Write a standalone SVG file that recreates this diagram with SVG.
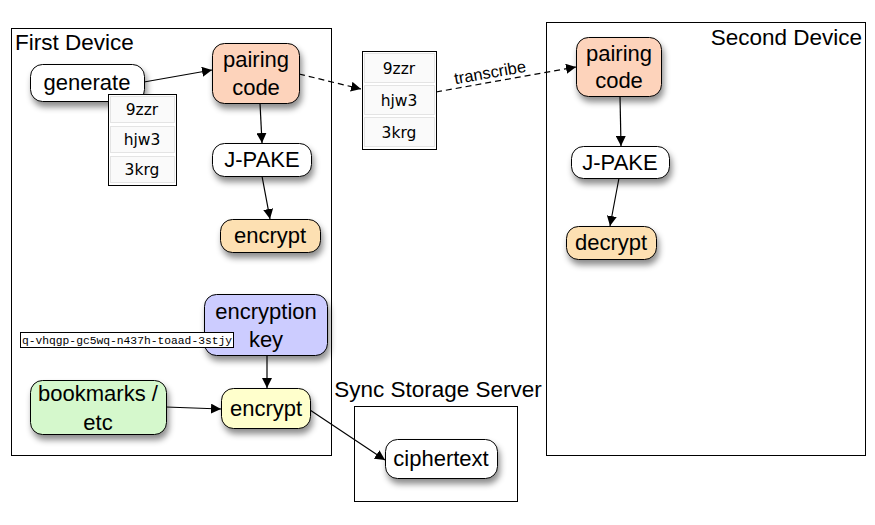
<svg xmlns="http://www.w3.org/2000/svg" width="875" height="525" viewBox="0 0 875 525">
  <defs>
    <filter id="shadow" x="-20%" y="-20%" width="150%" height="170%">
      <feDropShadow dx="2" dy="5" stdDeviation="3" flood-color="#000" flood-opacity="0.45"/>
    </filter>
    <marker id="arrow" viewBox="0 0 10 10" refX="10" refY="5" markerWidth="10" markerHeight="10" markerUnits="userSpaceOnUse" orient="auto">
      <path d="M0,0 L10,5 L0,10 z" fill="#000"/>
    </marker>
  </defs>
  <style>
    .frame { fill: #fff; stroke: #000; stroke-width: 1; }
    .node { stroke: #000; stroke-width: 1; filter: url(#shadow); }
    .lbl { font-family: "Liberation Sans", Arial, sans-serif; font-size: 22px; fill: #000; text-anchor: middle; }
    .title { font-family: "Liberation Sans", Arial, sans-serif; font-size: 22.5px; fill: #000; }
    .code { font-family: "DejaVu Sans", sans-serif; font-size: 15.5px; fill: #000; text-anchor: middle; }
    .row { fill: #fafafa; stroke: #e4e4e4; stroke-width: 1; }
    .edge { fill: none; stroke: #000; stroke-width: 1.2; marker-end: url(#arrow); }
    .dashed { stroke-dasharray: 6 4; }
  </style>
  <rect width="875" height="525" fill="#fff"/>

  <!-- containers -->
  <g id="first-device">
    <rect class="frame" x="11.5" y="28.5" width="320" height="427"/>
    <text class="title" x="15" y="50">First Device</text>
  </g>
  <g id="second-device">
    <rect class="frame" x="546.5" y="22.5" width="319" height="433"/>
    <text class="title" x="862" y="45" text-anchor="end">Second Device</text>
  </g>
  <g id="sync-server">
    <rect class="frame" x="354.5" y="406.5" width="163" height="95"/>
    <text class="title" x="438" y="397" text-anchor="middle">Sync Storage Server</text>
  </g>

  <!-- connectors -->
  <g id="connectors">
    <line class="edge" x1="144" y1="82" x2="212" y2="70"/>
    <line class="edge dashed" x1="299" y1="74" x2="361" y2="89"/>
    <line class="edge dashed" x1="436" y1="92" x2="576" y2="67"/>
    <text font-family="Liberation Sans, Arial, sans-serif" font-size="16.5px" text-anchor="middle" transform="translate(491,78) rotate(-10)">transcribe</text>
    <line class="edge" x1="260" y1="103" x2="262" y2="143"/>
    <line class="edge" x1="262" y1="176" x2="270" y2="219"/>
    <line class="edge" x1="267" y1="355" x2="267" y2="388"/>
    <line class="edge" x1="166" y1="407" x2="221" y2="409"/>
    <line class="edge" x1="310" y1="410" x2="385" y2="460"/>
    <line class="edge" x1="620" y1="96" x2="621" y2="146"/>
    <line class="edge" x1="619" y1="178" x2="610" y2="226"/>
  </g>

  <!-- first device nodes -->
  <g id="generate">
    <rect class="node" x="30.5" y="64.5" width="114" height="37" rx="12" fill="#fff"/>
    <text class="lbl" x="87" y="90">generate</text>
  </g>
  <g id="pairing-code-1">
    <rect class="node" x="212.5" y="43.5" width="87" height="60" rx="12" fill="#fdd3bb"/>
    <text class="lbl" x="256" y="67">pairing</text>
    <text class="lbl" x="256" y="95">code</text>
  </g>
  <g id="code-list-1">
    <rect x="108.5" y="94.5" width="68" height="91" fill="#fff" stroke="#000"/>
    <rect class="row" x="110.5" y="96.5" width="64" height="26"/>
    <rect class="row" x="110.5" y="126.5" width="64" height="26"/>
    <rect class="row" x="110.5" y="156.5" width="64" height="26"/>
    <text class="code" x="142" y="115">9zzr</text>
    <text class="code" x="142" y="145">hjw3</text>
    <text class="code" x="142" y="175">3krg</text>
  </g>
  <g id="jpake-1">
    <rect class="node" x="212.5" y="143.5" width="99" height="33" rx="12" fill="#fff"/>
    <text class="lbl" x="262" y="167">J-PAKE</text>
  </g>
  <g id="encrypt-1">
    <rect class="node" x="220.5" y="219.5" width="100" height="33" rx="12" fill="#fde0b2"/>
    <text class="lbl" x="270" y="243">encrypt</text>
  </g>
  <g id="encryption-key">
    <rect class="node" x="204.5" y="294.5" width="123" height="61" rx="12" fill="#ccccff"/>
    <text class="lbl" x="266" y="319">encryption</text>
    <text class="lbl" x="266" y="347">key</text>
  </g>
  <g id="key-value">
    <rect x="20.5" y="332.5" width="213" height="15" fill="#fff" stroke="#000"/>
    <text x="127" y="344" font-family="Liberation Mono, Courier New, monospace" font-size="11.3px" text-anchor="middle">q-vhqgp-gc5wq-n437h-toaad-3stjy</text>
  </g>
  <g id="bookmarks">
    <rect class="node" x="30.5" y="380.5" width="136" height="54" rx="12" fill="#d5f8cc"/>
    <text class="lbl" x="98" y="401">bookmarks /</text>
    <text class="lbl" x="98" y="430">etc</text>
  </g>
  <g id="encrypt-2">
    <rect class="node" x="221.5" y="388.5" width="89" height="40" rx="12" fill="#ffffcc"/>
    <text class="lbl" x="266" y="416">encrypt</text>
  </g>

  <!-- transcribed code -->
  <g id="code-list-2">
    <rect x="362.5" y="51.5" width="74" height="98" fill="#fff" stroke="#000"/>
    <rect class="row" x="364.5" y="53.5" width="70" height="29"/>
    <rect class="row" x="364.5" y="85.5" width="70" height="29"/>
    <rect class="row" x="364.5" y="117.5" width="70" height="29"/>
    <text class="code" x="399" y="74">9zzr</text>
    <text class="code" x="399" y="106">hjw3</text>
    <text class="code" x="399" y="138">3krg</text>
  </g>

  <!-- second device nodes -->
  <g id="pairing-code-2">
    <rect class="node" x="576.5" y="37.5" width="85" height="59" rx="12" fill="#fdd3bb"/>
    <text class="lbl" x="619" y="61">pairing</text>
    <text class="lbl" x="619" y="88">code</text>
  </g>
  <g id="jpake-2">
    <rect class="node" x="571.5" y="146.5" width="98" height="32" rx="12" fill="#fff"/>
    <text class="lbl" x="620" y="170">J-PAKE</text>
  </g>
  <g id="decrypt">
    <rect class="node" x="566.5" y="226.5" width="90" height="33" rx="12" fill="#fde0b2"/>
    <text class="lbl" x="611" y="250">decrypt</text>
  </g>

  <!-- server node -->
  <g id="ciphertext">
    <rect class="node" x="385.5" y="439.5" width="112" height="39" rx="12" fill="#fff"/>
    <text class="lbl" x="441" y="466">ciphertext</text>
  </g>
</svg>
